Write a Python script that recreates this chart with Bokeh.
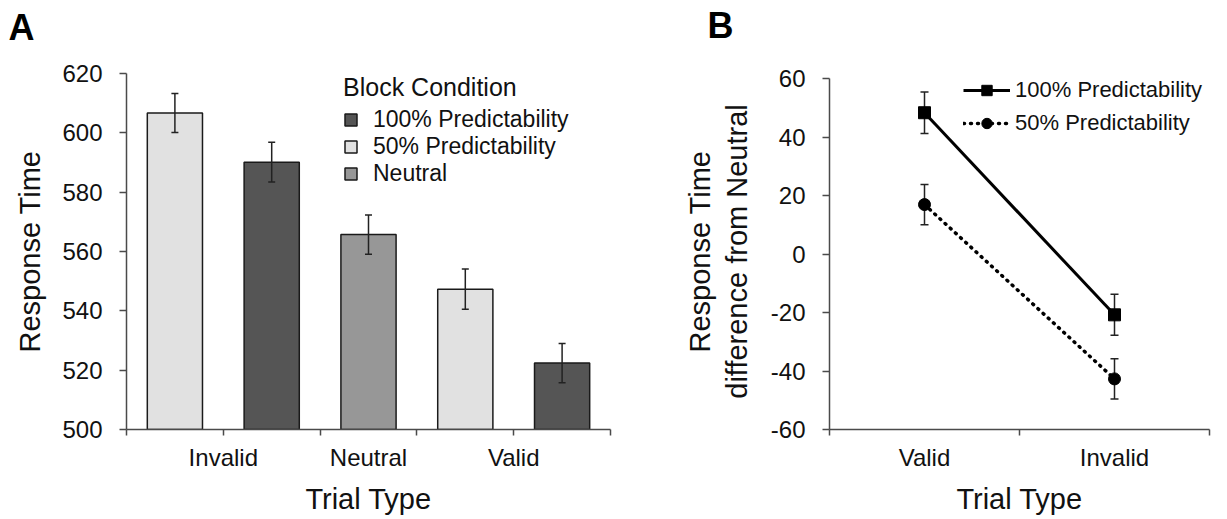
from bokeh.plotting import figure
from bokeh.models import (ColumnDataSource, FixedTicker, Whisker, TeeHead, Legend,
                          LegendItem, Range1d, Label)
from bokeh.layouts import row, column
from bokeh.embed import file_html
from bokeh.resources import INLINE

FONT = "Liberation Sans"
TXT = "#111111"
AX = "#4a4a4a"

# ---------------- Panel A data ----------------
bar_trial = ["Invalid", "Invalid", "Neutral", "Valid", "Valid"]
bar_cond = ["50% Predictability", "100% Predictability", "Neutral",
            "50% Predictability", "100% Predictability"]
bar_rt = [606.7, 590.1, 565.7, 547.3, 522.4]
bar_err = [6.6, 6.7, 6.6, 6.8, 6.6]
legend_order = ["100% Predictability", "50% Predictability", "Neutral"]
cond_colors = {"100% Predictability": "#555555",
               "50% Predictability": "#e1e1e1",
               "Neutral": "#979797"}
a_trial_order = ["Invalid", "Neutral", "Valid"]
a_y_ticks = [500, 520, 540, 560, 580, 600, 620]

# ---------------- Panel B data ----------------
b_trial = ["Valid", "Invalid"]
b_100 = [48.3, -20.8]
b_100_err = [7.1, 7.0]
b_50 = [16.9, -42.7]
b_50_err = [6.9, 6.9]
b_y_ticks = [-60, -40, -20, 0, 20, 40, 60]

panel_letters = ["A", "B"]

TICK_FS = "24px"
CAT_FS = "24px"
TITLE_FS = "29px"
STRIP_H = 56
FRAME_H = 356
A_W = 628
B_W = 591


def style_common(p):
    p.xgrid.visible = False
    p.ygrid.visible = False
    p.outline_line_color = None
    p.background_fill_color = "white"
    p.border_fill_color = "white"
    for ax in (p.xaxis[0], p.yaxis[0]):
        ax.axis_line_color = AX
        ax.axis_line_width = 1.5
        ax.major_tick_line_color = AX
        ax.major_tick_line_width = 1.5
        ax.minor_tick_line_color = AX
        ax.minor_tick_line_width = 1.5
        ax.major_tick_in = 0
        ax.minor_tick_in = 0
        ax.major_label_text_font = FONT
        ax.major_label_text_color = TXT
        ax.axis_label_text_font = FONT
        ax.axis_label_text_color = TXT
        ax.axis_label_text_font_style = "normal"


def letter_strip(width, text, x, y_center_from_top):
    s = figure(width=width, height=STRIP_H, x_range=Range1d(0, width),
               y_range=Range1d(0, STRIP_H), x_axis_type=None, y_axis_type=None,
               min_border=0, output_backend="svg", toolbar_location=None)
    s.outline_line_color = None
    s.add_layout(Label(x=x, y=STRIP_H - y_center_from_top, text=text, text_font=FONT,
                       text_font_style="bold", text_font_size="36px",
                       text_color="#000000", text_baseline="middle",
                       text_align="left"))
    return s


# ================= Panel A =================
nA = len(bar_rt)
bar_x = [i + 0.5 for i in range(nA)]
pA = figure(frame_width=484, frame_height=FRAME_H,
            min_border_left=126, min_border_right=18,
            min_border_top=73 - STRIP_H, min_border_bottom=86,
            x_range=Range1d(0, nA), y_range=Range1d(500, 620),
            output_backend="svg", toolbar_location=None)
style_common(pA)

renderers = {}
for cond in legend_order:
    idx = [i for i, c in enumerate(bar_cond) if c == cond]
    src = ColumnDataSource(dict(x=[bar_x[i] for i in idx], top=[bar_rt[i] for i in idx]))
    renderers[cond] = pA.vbar(x="x", top="top", bottom=500, width=0.57, source=src,
                              fill_color=cond_colors[cond], line_color="#1a1a1a",
                              line_width=1.5)

err_src = ColumnDataSource(dict(x=bar_x,
                                upper=[v + e for v, e in zip(bar_rt, bar_err)],
                                lower=[v - e for v, e in zip(bar_rt, bar_err)]))
wA = Whisker(base="x", upper="upper", lower="lower", source=err_src,
             line_color="#222222", line_width=1.5, level="overlay",
             upper_head=TeeHead(size=7, line_color="#222222", line_width=1.5),
             lower_head=TeeHead(size=7, line_color="#222222", line_width=1.5))
pA.add_layout(wA)

label_pos = {}
for t in a_trial_order:
    xs = [bar_x[i] for i, tt in enumerate(bar_trial) if tt == t]
    label_pos[t] = sum(xs) / len(xs)

xa = pA.xaxis[0]
xa.ticker = FixedTicker(ticks=[label_pos[t] for t in a_trial_order],
                        minor_ticks=list(range(nA + 1)))
xa.major_label_overrides = {label_pos[t]: t for t in a_trial_order}
xa.major_tick_out = 0
xa.minor_tick_out = 6
xa.major_label_text_font_size = CAT_FS
xa.major_label_standoff = 8
xa.axis_label = "Trial Type"
xa.axis_label_text_font_size = TITLE_FS
xa.axis_label_standoff = 9

ya = pA.yaxis[0]
ya.ticker = FixedTicker(ticks=a_y_ticks, minor_ticks=[])
ya.major_tick_out = 7
ya.minor_tick_out = 0
ya.major_label_text_font_size = TICK_FS
ya.major_label_standoff = 17
ya.axis_label = "Response Time"
ya.axis_label_text_font_size = TITLE_FS
ya.axis_label_standoff = 13

legA = Legend(items=[LegendItem(label=c, renderers=[renderers[c]]) for c in legend_order],
              location=(217, 242), title="Block Condition",
              title_text_font=FONT, title_text_font_size="25px",
              title_text_font_style="normal", title_text_color=TXT, title_standoff=4,
              label_text_font=FONT, label_text_font_size="23px", label_text_color=TXT,
              glyph_width=15, glyph_height=15, label_height=26, spacing=0,
              padding=0, margin=0, label_standoff=15,
              border_line_color=None, background_fill_alpha=0)
pA.add_layout(legA)

# ================= Panel B =================
nB = len(b_trial)
bx = [i + 0.5 for i in range(nB)]
b_lo, b_hi = b_y_ticks[0], b_y_ticks[-1]
b_top = b_lo + (b_hi - b_lo) * FRAME_H / 351.0
pB = figure(frame_width=380, frame_height=FRAME_H,
            min_border_left=201, min_border_right=10,
            min_border_top=73 - STRIP_H, min_border_bottom=86,
            x_range=Range1d(0, nB), y_range=Range1d(b_lo, b_top),
            output_backend="svg", toolbar_location=None)
style_common(pB)

e100 = ColumnDataSource(dict(x=bx, upper=[v + e for v, e in zip(b_100, b_100_err)],
                             lower=[v - e for v, e in zip(b_100, b_100_err)]))
e50 = ColumnDataSource(dict(x=bx, upper=[v + e for v, e in zip(b_50, b_50_err)],
                            lower=[v - e for v, e in zip(b_50, b_50_err)]))
for s in (e100, e50):
    pB.add_layout(Whisker(base="x", upper="upper", lower="lower", source=s,
                          line_color="#222222", line_width=1.5,
                          upper_head=TeeHead(size=8, line_color="#222222", line_width=1.5),
                          lower_head=TeeHead(size=8, line_color="#222222", line_width=1.5)))

l100 = pB.line(bx, b_100, line_color="#000000", line_width=3)
m100 = pB.scatter(bx, b_100, marker="square", size=12, fill_color="#000000", line_color="#000000")
l50 = pB.line(bx, b_50, line_color="#000000", line_width=3.5, line_dash="1 6", line_cap="round")
m50 = pB.scatter(bx, b_50, marker="circle", size=12, fill_color="#000000", line_color="#000000")

xb = pB.xaxis[0]
xb.ticker = FixedTicker(ticks=bx, minor_ticks=list(range(nB + 1)))
xb.major_label_overrides = {x: t for x, t in zip(bx, b_trial)}
xb.major_tick_out = 0
xb.minor_tick_out = 6
xb.major_label_text_font_size = CAT_FS
xb.major_label_standoff = 8
xb.axis_label = "Trial Type"
xb.axis_label_text_font_size = TITLE_FS
xb.axis_label_standoff = 9

yb = pB.yaxis[0]
yb.ticker = FixedTicker(ticks=b_y_ticks, minor_ticks=[])
yb.major_label_overrides = {v: str(v) for v in b_y_ticks}
yb.bounds = (b_lo, b_hi)
yb.major_tick_out = 7
yb.minor_tick_out = 0
yb.major_label_text_font_size = TICK_FS
yb.major_label_standoff = 17
yb.axis_label = "Response Time\ndifference from Neutral"
yb.axis_label_text_font_size = TITLE_FS
yb.axis_label_text_line_height = 1.15
yb.axis_label_standoff = 15

legB = Legend(items=[LegendItem(label="100% Predictability", renderers=[l100, m100]),
                     LegendItem(label="50% Predictability", renderers=[l50, m50])],
              location=(134, 293),
              label_text_font=FONT, label_text_font_size="22px", label_text_color=TXT,
              glyph_width=47, glyph_height=26, label_height=26, spacing=7,
              padding=0, margin=0, label_standoff=5,
              border_line_color=None, background_fill_alpha=0)
pB.add_layout(legB)

sA = letter_strip(A_W, panel_letters[0], 8, 26.5)
sB = letter_strip(B_W, panel_letters[1], 707 - A_W, 25)

layout = column(row(sA, sB), row(pA, pB))
open("out.html", "w").write(file_html(layout, INLINE))
